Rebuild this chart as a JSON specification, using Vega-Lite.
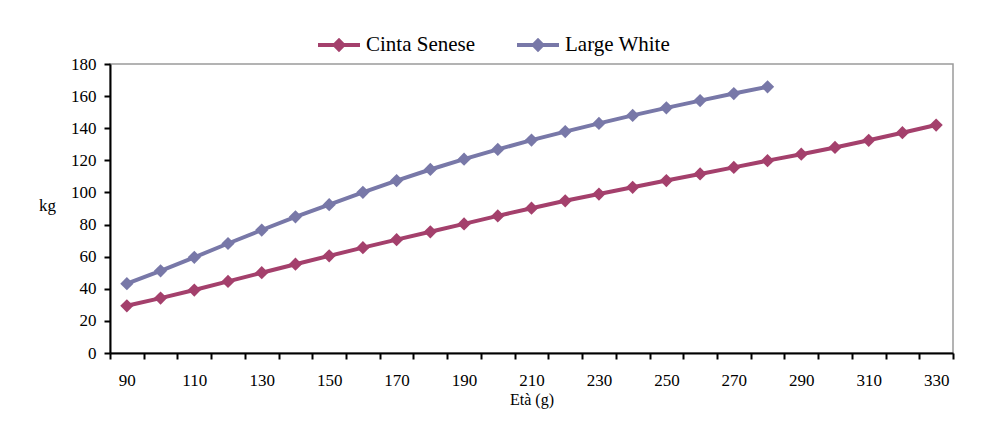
{
  "$schema": "https://vega.github.io/schema/vega-lite/v6.json",
  "width": 843,
  "height": 289,
  "autosize": {"type": "none"},
  "padding": {"left": 110, "top": 64, "right": 28, "bottom": 71},
  "background": "white",
  "config": {
    "view": {"stroke": "#9a9a9a", "strokeWidth": 1.5},
    "font": "Liberation Serif"
  },
  "data": {
    "values": [
      {"eta": 90, "razza": "Cinta Senese", "kg": 29.4},
      {"eta": 100, "razza": "Cinta Senese", "kg": 34.2},
      {"eta": 110, "razza": "Cinta Senese", "kg": 39.2},
      {"eta": 120, "razza": "Cinta Senese", "kg": 44.6},
      {"eta": 130, "razza": "Cinta Senese", "kg": 50.0},
      {"eta": 140, "razza": "Cinta Senese", "kg": 55.3},
      {"eta": 150, "razza": "Cinta Senese", "kg": 60.5},
      {"eta": 160, "razza": "Cinta Senese", "kg": 65.6},
      {"eta": 170, "razza": "Cinta Senese", "kg": 70.6},
      {"eta": 180, "razza": "Cinta Senese", "kg": 75.5},
      {"eta": 190, "razza": "Cinta Senese", "kg": 80.4},
      {"eta": 200, "razza": "Cinta Senese", "kg": 85.4},
      {"eta": 210, "razza": "Cinta Senese", "kg": 90.2},
      {"eta": 220, "razza": "Cinta Senese", "kg": 94.8},
      {"eta": 230, "razza": "Cinta Senese", "kg": 99.0},
      {"eta": 240, "razza": "Cinta Senese", "kg": 103.2},
      {"eta": 250, "razza": "Cinta Senese", "kg": 107.4},
      {"eta": 260, "razza": "Cinta Senese", "kg": 111.5},
      {"eta": 270, "razza": "Cinta Senese", "kg": 115.6},
      {"eta": 280, "razza": "Cinta Senese", "kg": 119.8},
      {"eta": 290, "razza": "Cinta Senese", "kg": 123.8},
      {"eta": 300, "razza": "Cinta Senese", "kg": 128.0},
      {"eta": 310, "razza": "Cinta Senese", "kg": 132.5},
      {"eta": 320, "razza": "Cinta Senese", "kg": 137.2},
      {"eta": 330, "razza": "Cinta Senese", "kg": 142.0},
      {"eta": 90, "razza": "Large White", "kg": 43.2},
      {"eta": 100, "razza": "Large White", "kg": 51.2},
      {"eta": 110, "razza": "Large White", "kg": 59.6},
      {"eta": 120, "razza": "Large White", "kg": 68.2},
      {"eta": 130, "razza": "Large White", "kg": 76.6},
      {"eta": 140, "razza": "Large White", "kg": 84.8},
      {"eta": 150, "razza": "Large White", "kg": 92.4},
      {"eta": 160, "razza": "Large White", "kg": 100.1},
      {"eta": 170, "razza": "Large White", "kg": 107.4},
      {"eta": 180, "razza": "Large White", "kg": 114.3},
      {"eta": 190, "razza": "Large White", "kg": 120.7},
      {"eta": 200, "razza": "Large White", "kg": 126.8},
      {"eta": 210, "razza": "Large White", "kg": 132.6},
      {"eta": 220, "razza": "Large White", "kg": 137.9},
      {"eta": 230, "razza": "Large White", "kg": 143.0},
      {"eta": 240, "razza": "Large White", "kg": 148.0},
      {"eta": 250, "razza": "Large White", "kg": 152.7},
      {"eta": 260, "razza": "Large White", "kg": 157.2},
      {"eta": 270, "razza": "Large White", "kg": 161.6},
      {"eta": 280, "razza": "Large White", "kg": 165.8}
    ]
  },
  "mark": {
    "type": "line",
    "strokeWidth": 4,
    "point": {"shape": "diamond", "filled": true, "size": 175, "opacity": 1}
  },
  "encoding": {
    "x": {
      "field": "eta",
      "type": "ordinal",
      "sort": "ascending",
      "scale": {"type": "band", "paddingInner": 0, "paddingOuter": 0},
      "axis": {
        "title": "Età (g)",
        "labelAngle": 0,
        "labelExpr": "datum.value % 20 == 10 ? datum.label : ''",
        "tickBand": "extent",
        "labelFont": "Liberation Serif",
        "labelFontSize": 17,
        "labelColor": "black",
        "labelPadding": 13,
        "labelBaseline": "top",
        "domainColor": "black",
        "domainWidth": 2,
        "tickColor": "black",
        "tickWidth": 2,
        "tickSize": 6,
        "grid": false,
        "titleFont": "Liberation Serif",
        "titleFontSize": 16,
        "titleFontWeight": "normal",
        "titleColor": "black",
        "titleBaseline": "middle",
        "titleY": 46
      }
    },
    "y": {
      "field": "kg",
      "type": "quantitative",
      "scale": {"domain": [0, 180], "nice": false},
      "axis": {
        "values": [0, 20, 40, 60, 80, 100, 120, 140, 160, 180],
        "title": "kg",
        "titleAngle": 0,
        "titleX": -63,
        "titleY": 141,
        "titleAlign": "center",
        "titleBaseline": "middle",
        "titleFont": "Liberation Serif",
        "titleFontSize": 17,
        "titleFontWeight": "normal",
        "titleColor": "black",
        "labelFont": "Liberation Serif",
        "labelFontSize": 17,
        "labelColor": "black",
        "labelPadding": 8,
        "domainColor": "black",
        "domainWidth": 2,
        "tickColor": "black",
        "tickWidth": 2,
        "tickSize": 6,
        "grid": false
      }
    },
    "color": {
      "field": "razza",
      "type": "nominal",
      "scale": {"domain": ["Cinta Senese", "Large White"], "range": ["#a4406c", "#7878a8"]},
      "legend": {
        "title": null,
        "orient": "none",
        "direction": "horizontal",
        "legendX": 208,
        "legendY": -40,
        "symbolType": "M-1,-0.1L1,-0.1L1,0.1L-1,0.1Z M-0.34,0L0,-0.34L0.34,0L0,0.34Z",
        "symbolSize": 1764,
        "symbolStrokeWidth": 0,
        "labelFont": "Liberation Serif",
        "labelFontSize": 21,
        "labelColor": "black",
        "labelOffset": 6,
        "columnPadding": 41,
        "encode": {
          "symbols": {
            "update": {
              "fill": {"scale": "color", "field": "value"},
              "stroke": {"value": "transparent"},
              "opacity": {"value": 1}
            }
          }
        }
      }
    }
  }
}
